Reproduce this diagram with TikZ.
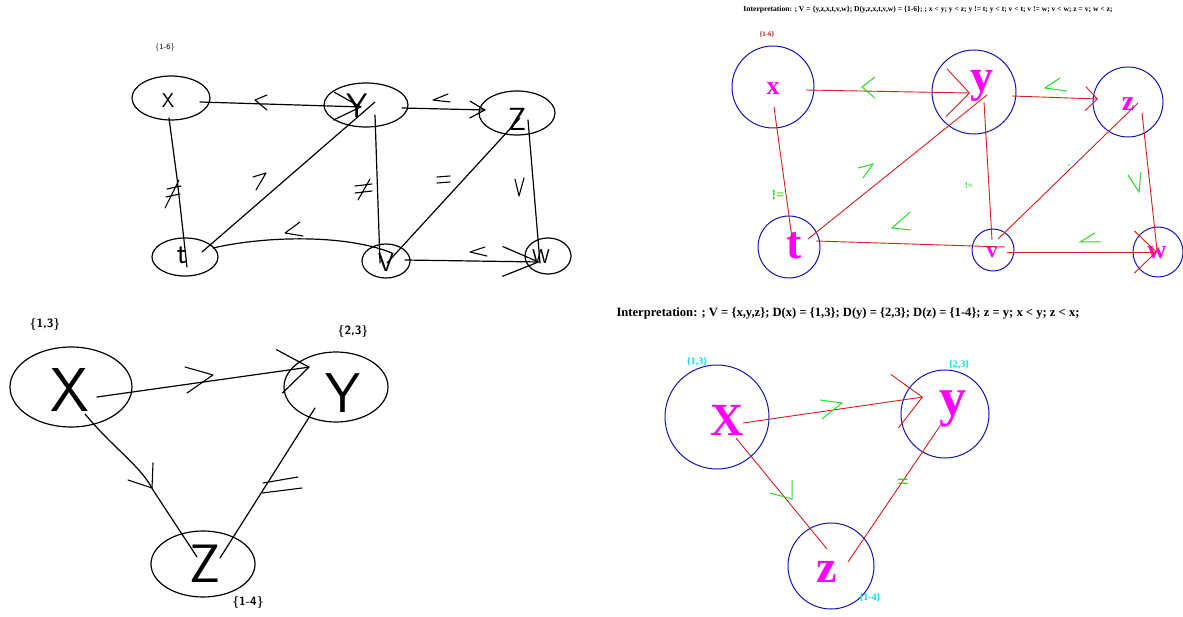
\documentclass[tikz,border=0pt]{standalone}
\usepackage{fontspec}
\setmainfont{Liberation Serif}
\newcommand\handfont{\sffamily}
\usetikzlibrary{arrows.meta,calc,shapes.geometric}
\definecolor{rd}{RGB}{215,30,30}
\definecolor{bl}{RGB}{20,20,180}
\definecolor{mg}{RGB}{255,0,255}
\definecolor{gr}{RGB}{40,220,40}
\definecolor{cy}{RGB}{0,225,240}
\definecolor{dr}{RGB}{180,30,30}
\newcommand\setfs[1]{\fontsize{#1}{#1}\selectfont}
\tikzset{
 hand/.style={draw=black,line width=1.2pt,line cap=round,line join=round},
 hell/.style={ellipse,draw=black,line width=1.2pt,inner sep=0pt},
 hmark/.style={draw=black,line width=1.1pt,line cap=round,line join=round},
 rline/.style={draw=rd,line width=0.9pt},
 bcirc/.style={circle,draw=bl,line width=1pt,inner sep=0pt},
 mlab/.style={text=mg,inner sep=0pt},
 gmark/.style={draw=gr,line width=1pt},
 gtext/.style={text=gr,inner sep=0pt},
 hlab/.style={inner sep=0pt},
}
\begin{document}
\begin{tikzpicture}[x=1pt,y=-1pt]
\useasboundingbox (0,0) rectangle (1183,617);
\fill[white] (0,0) rectangle (1183,617);

% ================= top-left hand drawing =================
\node[hlab] (hdom) at (165,48) {\handfont\setfs{8}\{1-6\}};
\node[hell,minimum width=78pt,minimum height=44pt] (hx) at (171,98) {};
\node[hell,minimum width=84pt,minimum height=44pt] (hy) at (366,105) {};
\node[hell,minimum width=76pt,minimum height=44pt] (hz) at (517,113) {};
\node[hell,minimum width=66pt,minimum height=38pt] (ht) at (185,257) {};
\node[hell,minimum width=48pt,minimum height=34pt] (hv) at (386,261) {};
\node[hell,minimum width=46pt,minimum height=36pt] (hw) at (548,256) {};
\node[hlab] (hxl) at (168,101) {\handfont\setfs{20}X};
\node[hlab] (hyl) at (357,106) {\handfont\setfs{34}Y};
\node[hlab] (hzl) at (517,119) {\handfont\setfs{32}Z};
\node[hlab] (htl) at (182,255) {\handfont\setfs{30}t};
\node[hlab] (hvl) at (386,262) {\handfont\setfs{26}V};
\node[hlab] (hwl) at (541,257) {\handfont\setfs{20}W};

\draw[hand,-{Straight Barb[length=27pt,width=28pt]}] ($(hx)+(29,4)$) -- ($(hy)+(-4,2)$);
\draw[hand,-{Straight Barb[length=15pt,width=17pt]}] ($(hy)+(36,3)$) -- ($(hz)+(-31,-3)$);
\draw[hand] ($(hx)+(-2,20)$) -- ($(hx)+(6,80)$) -- ($(ht)+(2,10)$);
\draw[hand] ($(ht)+(17,-5)$) -- ($(hy)+(9,-3)$);
\draw[hand] ($(hy)+(9,10)$) -- ($(hv)+(-6,2)$);
\draw[hand] ($(ht)+(28,-9)$) .. controls (265,236) and (345,234) .. ($(hv)+(6,-8)$);
\draw[hand,-{Straight Barb[length=36pt,width=30pt]}] ($(hv)+(19,-1)$) -- ($(hw)+(-8,6)$);
\draw[hand] ($(hv)+(1,2)$) -- ($(hz)+(3,5)$);
\draw[hand] ($(hz)+(11,7)$) -- ($(hw)+(-8,7)$);
% marks
\draw[hmark] (267,95) -- (255,100) -- (267,110);
\draw[hmark] (448,94) -- (433,100) -- (450,102);
\draw[hmark] (167,189) -- (181,186) (166,197) -- (180,194) (179,180) -- (165,208);
\draw[hmark] (253,177) -- (266,173) -- (256,190);
\draw[hmark] (355,186) -- (372,184) (355,193) -- (372,191) (370,179) -- (358,200);
\draw[hmark] (300,222) -- (285,233) -- (303,236);
\draw[hmark] (485,247) -- (470,252) -- (487,256);
\draw[hmark] (437,177) -- (450,176) (437,183) -- (450,182);
\draw[hmark] (515,179) -- (519,196) -- (524,178);

% ================= bottom-left hand drawing =================
\node[hell,minimum width=122pt,minimum height=80pt] (bx) at (71,387) {};
\node[hell,minimum width=104pt,minimum height=70pt] (by) at (336,387) {};
\node[hell,minimum width=104pt,minimum height=66pt] (bz) at (203,564) {};
\node[hlab] (bxl) at (70,390) {\handfont\setfs{62}X};
\node[hlab] (byl) at (343,393) {\handfont\setfs{56}Y};
\node[hlab] (bzl) at (205,564) {\handfont\setfs{54}Z};
\node[hlab] (bxd) at (45,325) {\handfont\bfseries\setfs{12}\{1,3\}};
\node[hlab] (byd) at (353,332) {\handfont\bfseries\setfs{12}\{2,3\}};
\node[hlab] (bzd) at (248,602) {\handfont\bfseries\setfs{12}\{1-4\}};
\draw[hand,-{Straight Barb[length=30pt,width=44pt]}] ($(bx)+(26,10)$) -- ($(by)+(-26,-20)$);
\draw[hand] ($(bx)+(14,27)$) .. controls (115,450) and (140,465) .. (153,490) -- ($(bz)+(-6,-7)$);
\draw[hand] ($(bz)+(17,-6)$) -- ($(by)+(-21,21)$);
\draw[hmark] (185,367) -- (213,375) -- (187,393);
\draw[hmark] (128,480) -- (152,488) -- (153,463);
\draw[hmark] (263,483) -- (298,477) (262,493) -- (302,488);

% ================= top-right computer drawing =================
\node[font=\bfseries,inner sep=0pt] (hdr1) at (928,10) {\resizebox{369pt}{!}{Interpretation: ; V = \{y,z,x,t,v,w\}; D(y,z,x,t,v,w) = \{1-6\}; ; x < y; y < z; y != t; y < t; v < t; v != w; v < w; z = v; w < z;}};
\node[text=dr,font=\bfseries\setfs{7},inner sep=0pt] (dom6) at (767,35) {\{1-6\}};
\node[bcirc,minimum size=82pt] (cx) at (773,87) {};
\node[bcirc,minimum size=84pt] (cy) at (974,92) {};
\node[bcirc,minimum size=70pt] (cz) at (1128,102) {};
\node[bcirc,minimum size=62pt] (ct) at (789,247) {};
\node[bcirc,minimum size=42pt] (cv) at (993,250) {};
\node[bcirc,minimum size=50pt] (cw) at (1158,252) {};
\node[mlab,font=\bfseries\setfs{26}] (cxl) at (773,89) {x};
\node[mlab,font=\bfseries\setfs{46}] (cyl) at (982,86) {y};
\node[mlab,font=\bfseries\setfs{28}] (czl) at (1128,104) {z};
\node[mlab,font=\bfseries\setfs{46}] (ctl) at (794,246) {t};
\node[mlab,font=\bfseries\setfs{22}] (cvl) at (992,253) {v};
\node[mlab,font=\bfseries\setfs{26}] (cwl) at (1157,253) {w};

\draw[rline,-{Straight Barb[length=23pt,width=48pt]}] ($(cx)+(33,3)$) -- ($(cy)+(-4,1)$);
\draw[rline,-{Straight Barb[length=12pt,width=24pt]}] ($(cy)+(38,4)$) -- ($(cz)+(-30,-3)$);
\draw[rline] ($(cx)+(1,20)$) -- ($(ct)+(3,-9)$);
\draw[rline] ($(ct)+(19,-8)$) -- ($(cy)+(13,3)$);
\draw[rline] ($(cy)+(10,10)$) -- ($(cv)+(-1,-10)$);
\draw[rline] ($(ct)+(27,-6)$) -- ($(cv)+(12,-3)$);
\draw[rline,-{Straight Barb[length=22pt,width=42pt]}] ($(cv)+(14,2)$) -- ($(cw)+(-1,0)$);
\draw[rline] ($(cv)+(5,-11)$) -- ($(cz)+(10,1)$);
\draw[rline] ($(cz)+(14,11)$) -- ($(cw)+(-1,-2)$);

\draw[gmark] (875,77) -- (862,87) -- (875,98);
\draw[gmark] (1060,78) -- (1045,88) -- (1067,91);
\draw[gmark] (858,168) -- (873,164) -- (863,178);
\draw[gmark] (910,212) -- (892,228) -- (911,230);
\draw[gmark] (1095,233) -- (1080,242) -- (1101,242);
\draw[gmark] (1128,175) -- (1139,192) -- (1141,172);
\node[gtext,font=\bfseries\setfs{14}] (ne1) at (778,195) {!=};
\node[gtext,font=\bfseries\setfs{9}] (ne2) at (969,186) {!=};
\node[gtext,font=\bfseries\setfs{6}] (eq1) at (1069,166) {=};

% ================= bottom-right computer drawing =================
\node[font=\bfseries,inner sep=0pt] (hdr2) at (848,313) {\resizebox{463pt}{!}{Interpretation: ; V = \{x,y,z\}; D(x) = \{1,3\}; D(y) = \{2,3\}; D(z) = \{1-4\}; z = y; x < y; z < x;}};
\node[bcirc,minimum size=104pt] (dx) at (717,417) {};
\node[bcirc,minimum size=88pt] (dy) at (945,414) {};
\node[bcirc,minimum size=86pt] (dz) at (831,566) {};
\node[mlab,font=\bfseries\setfs{46}] (dxl) at (727,420) {X};
\node[mlab,font=\bfseries\setfs{54}] (dyl) at (953,409) {y};
\node[mlab,font=\bfseries\setfs{46}] (dzl) at (827,572) {z};
\node[text=cy,font=\bfseries\setfs{10},inner sep=0pt] (dxd) at (697,362) {\{1,3\}};
\node[text=cy,font=\bfseries\setfs{10},inner sep=0pt] (dyd) at (959,365) {\{2,3\}};
\node[text=cy,font=\bfseries\setfs{10},inner sep=0pt] (dzd) at (870,598) {\{1-4\}};
\draw[rline,-{Straight Barb[length=28pt,width=54pt]}] ($(dx)+(26,6)$) -- ($(dy)+(-22,-17)$);
\draw[rline] ($(dx)+(19,21)$) -- ($(dz)+(-4,-17)$);
\draw[rline] ($(dz)+(17,-4)$) -- ($(dy)+(-5,12)$);
\draw[gmark] (820,400) -- (842,403) -- (822,419);
\draw[gmark] (770,493) -- (792,499) -- (792,480);
\node[gtext,font=\bfseries\setfs{20}] (eq2) at (903,484) {=};
\end{tikzpicture}
\end{document}
